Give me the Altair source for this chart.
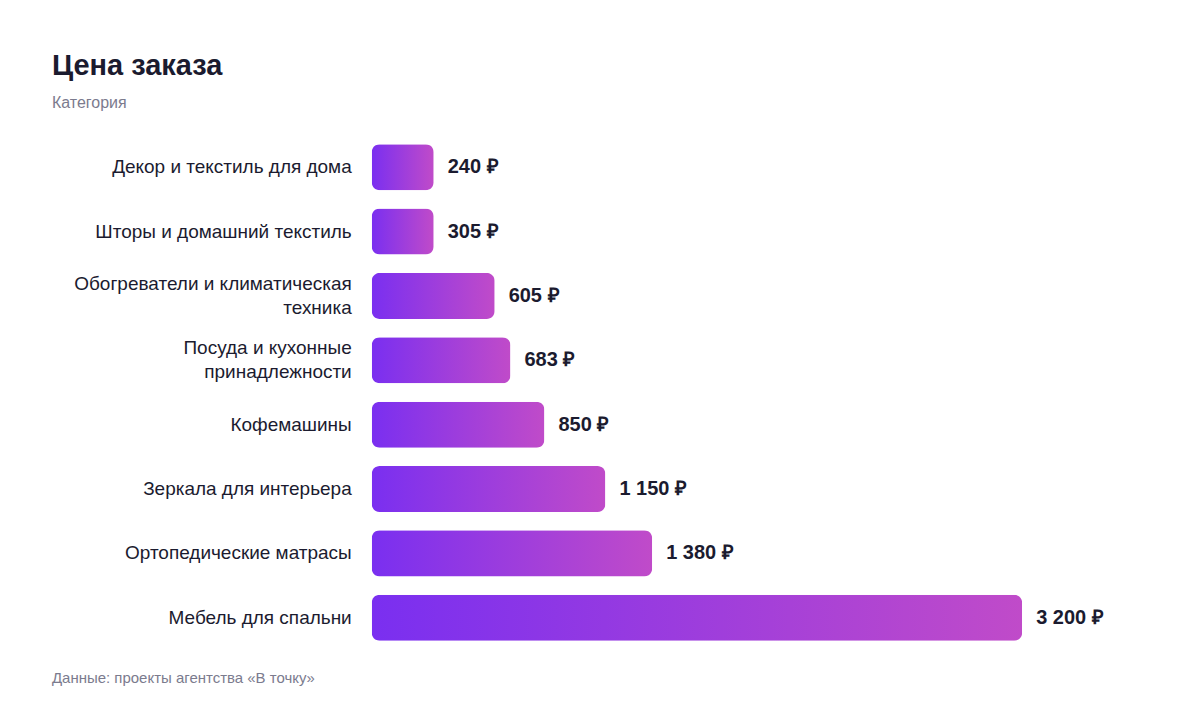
"""Order price by category: horizontal gradient bars with value labels."""

import altair as alt
import pandas as pd

CATEGORIES = [
    "Декор и текстиль для дома",
    "Шторы и домашний текстиль",
    "Обогреватели и климатическая\nтехника",
    "Посуда и кухонные\nпринадлежности",
    "Кофемашины",
    "Зеркала для интерьера",
    "Ортопедические матрасы",
    "Мебель для спальни",
]
VALUES = [240, 305, 605, 683, 850, 1150, 1380, 3200]
VALUE_LABELS = ["240 ₽", "305 ₽", "605 ₽", "683 ₽", "850 ₽", "1 150 ₽", "1 380 ₽", "3 200 ₽"]

TITLE = "Цена заказа"
SUBTITLE = "Категория"
SOURCE = "Данные: проекты агентства «В точку»"

FONT = "Liberation Sans, Arial, Helvetica, sans-serif"
DARK = "#1b1b2f"
GRAY = "#7b7b8e"
MIN_BAR = 305  # short bars get a minimum visible length

df = pd.DataFrame({"category": CATEGORIES, "value": VALUES, "label": VALUE_LABELS})

y_enc = alt.Y(
    "category:N",
    sort=CATEGORIES,
    axis=None,
    scale=alt.Scale(paddingInner=0.285, paddingOuter=0.14),
)

gradient = alt.LinearGradient(
    gradient="linear",
    stops=[
        alt.GradientStop(color="#7a2ff0", offset=0),
        alt.GradientStop(color="#c04bc9", offset=1),
    ],
    x1=0, x2=1, y1=0, y2=0,
)

base = alt.Chart(df).transform_calculate(shown=f"max(datum.value, {MIN_BAR})")

bars = base.mark_bar(color=gradient, cornerRadius=8).encode(
    x=alt.X("shown:Q", axis=None, scale=alt.Scale(domain=[0, 3200], nice=False)),
    y=y_enc,
)

values = base.mark_text(
    align="left", baseline="middle", dx=14, font=FONT, fontSize=20,
    fontWeight="bold", color=DARK,
).encode(x="shown:Q", y=y_enc, text="label:N")


def category_labels(multiline):
    """Category names left of the bars; wrapped names are shifted up to centre."""
    test = "indexof(datum.category, '\\n') >= 0"
    return (
        base.transform_filter(test if multiline else f"!({test})")
        .mark_text(
            align="right", baseline="middle", font=FONT, fontSize=19, color=DARK,
            lineBreak="\n", lineHeight=24, dy=-12 if multiline else 0,
        )
        .encode(x=alt.value(-20), y=y_enc, text="category:N")
    )


def note(text, y, size, color, weight="normal"):
    """Single free-standing text line placed relative to the plot area."""
    return alt.Chart(pd.DataFrame({"t": [text]})).mark_text(
        align="left", baseline="alphabetic", font=FONT, fontSize=size,
        fontWeight=weight, color=color,
    ).encode(x=alt.value(-320), y=alt.value(y), text="t:N")


title = note(TITLE, -60, 29, DARK, "bold")
subtitle = note(SUBTITLE, -27, 16, GRAY)
footer = note(SOURCE, 548, 15, GRAY)

chart = (
    alt.layer(
        bars, values, category_labels(False), category_labels(True),
        title, subtitle, footer,
    )
    .properties(
        width=651,
        height=515,
        autosize=alt.AutoSizeParams(type="none"),
        padding={"left": 364, "top": 127, "right": 170, "bottom": 62},
    )
    .configure_view(stroke=None)
)

chart.save("out.html", embed_options={"renderer": "svg", "actions": False})
